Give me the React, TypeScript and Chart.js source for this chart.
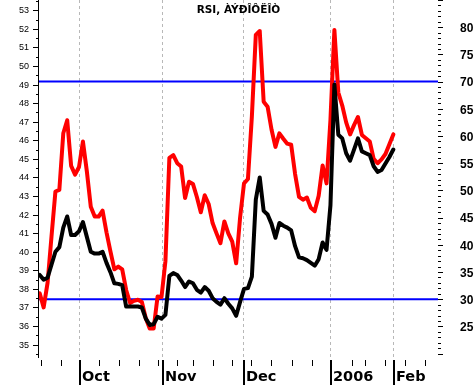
import React, { useEffect, useRef } from 'react';
import { Chart, registerables } from 'chart.js';

Chart.register(...registerables);

const TITLE = 'RSI, ÀÝÐÎÔËÎÒ';

// black series (left axis), one value per trading day
const priceValues = [
  38.75, 38.5, 38.6, 39.3, 40.0, 40.25, 41.3, 41.9, 40.9, 40.9,
  41.1, 41.6, 40.8, 40.0, 39.9, 39.9, 40.0, 39.4, 38.9, 38.3,
  38.27, 38.2, 37.05, 37.05, 37.05, 37.05, 37.0, 36.4, 36.06, 36.1,
  36.5, 36.4, 36.6, 38.7, 38.85, 38.75, 38.45, 38.1, 38.4, 38.3,
  37.95, 37.8, 38.1, 37.9, 37.5, 37.3, 37.15, 37.5, 37.2, 36.95,
  36.55, 37.3, 38.0, 38.04, 38.66, 42.8, 44.0, 42.2, 42.0, 41.5,
  40.75, 41.55, 41.4, 41.3, 41.15, 40.3, 39.7, 39.65, 39.55, 39.4,
  39.25, 39.6, 40.5, 40.1, 42.5, 49.0, 46.3, 46.1, 45.3, 44.9,
  45.5, 46.1, 45.4, 45.3, 45.2, 44.6, 44.3, 44.4, 44.75, 45.1,
  45.5,
];

// red series: RSI (right axis)
const rsiValues = [
  31.1, 28.5, 33, 41.5, 49.8, 50.1, 60.5, 62.9, 54.5, 52.9,
  54.3, 59, 53.5, 47, 45.2, 45.2, 46.3, 42.3, 38.8, 35.5,
  36.0, 35.5, 31.7, 29.3, 29.7, 29.9, 29.5, 26.5, 24.6, 24.6,
  30.5, 30.4, 37, 56, 56.5, 55, 54.4, 48.6, 51.6, 51.2,
  48.8, 46, 49.1, 47.5, 44.0, 42.1, 40.3, 44.3, 42.1, 40.6,
  36.6, 45, 51.3, 52.1, 63.6, 78.6, 79.3, 66.3, 65.4, 61.2,
  58, 60.5, 59.5, 58.6, 58.4, 53, 48.8, 48.3, 48.7, 46.8,
  46.2, 49, 54.6, 51.3, 63, 79.5, 68, 65.6, 62.5, 60.3,
  62, 63.5, 60.2, 59.6, 59, 55.8, 55, 55.7, 56.7, 58.5,
  60.3,
];

const rsiLevels = [70, 30];

const leftTickValues = [35, 36, 37, 38, 39, 40, 41, 42, 43, 44, 45, 46, 47, 48, 49, 50, 51, 52, 53];
const rightTickValues = [25, 30, 35, 40, 45, 50, 55, 60, 65, 70, 75, 80];

const monthLabels = ['Oct', 'Nov', 'Dec', '2006', 'Feb'];
const monthPositions = [10, 31.2, 51.8, 74, 89.8];
const weekTickPositions = [0.33, 5.3, 15.17, 20.2, 25.2, 30.2, 35.0, 39.1, 44.1, 48.9, 53.9, 58.8, 64.1, 69.2, 79.4, 82.8, 87.9, 93.0, 98.1];

const X_MIN = -0.18;
const X_MAX = 101.37;
const LEFT_MIN = 34.28;
const LEFT_MAX = 53.55;
const RIGHT_MIN = 19.2;
const RIGHT_MAX = 85.0;

const axesPlugin = {
  id: 'customAxes',
  beforeDatasetsDraw(chart: any) {
    const { ctx, chartArea } = chart;
    const x = chart.scales.x;
    ctx.save();
    ctx.strokeStyle = '#b8b8b8';
    ctx.lineWidth = 1;
    ctx.setLineDash([3, 3]);
    for (const m of monthPositions) {
      const px = Math.round(x.getPixelForValue(m)) + 0.5;
      ctx.beginPath();
      ctx.moveTo(px, chartArea.top);
      ctx.lineTo(px, chartArea.bottom);
      ctx.stroke();
    }
    ctx.restore();
  },
  afterDraw(chart: any) {
    const { ctx, chartArea } = chart;
    const x = chart.scales.x;
    const yL = chart.scales.yLeft;
    const yR = chart.scales.yRight;
    ctx.save();
    ctx.fillStyle = '#000';

    // left axis line
    ctx.fillRect(chartArea.left - 1, chartArea.top, 1, chartArea.bottom - chartArea.top);
    // left ticks
    for (let v = Math.ceil(LEFT_MIN * 2) / 2; v <= LEFT_MAX; v += 0.5) {
      const py = Math.round(yL.getPixelForValue(v));
      const major = Math.abs(v - Math.round(v)) < 1e-6;
      const len = major ? 5 : 2;
      ctx.fillRect(chartArea.left - 1 - len, py, len, 1);
    }
    ctx.font = '9px "Liberation Sans", Arial, sans-serif';
    ctx.textAlign = 'right';
    ctx.textBaseline = 'middle';
    for (const v of leftTickValues) {
      ctx.fillText(String(v), chartArea.left - 10, yL.getPixelForValue(v) + 0.5);
    }

    // right ticks
    for (let v = Math.ceil(RIGHT_MIN); v <= RIGHT_MAX; v += 1) {
      const py = Math.round(yR.getPixelForValue(v));
      const len = v % 5 === 0 ? 5 : 3;
      ctx.fillRect(chartArea.right, py, len, 1);
    }
    ctx.font = 'bold 12px "Liberation Sans", Arial, sans-serif';
    ctx.textAlign = 'left';
    for (const v of rightTickValues) {
      ctx.fillText(String(v), chartArea.right + 22, yR.getPixelForValue(v) + 1.5);
    }

    // x ticks
    const tickTop = chartArea.bottom + 2;
    for (const w of weekTickPositions) {
      const px = Math.round(x.getPixelForValue(w));
      ctx.fillRect(px, tickTop, 1, 6);
    }
    ctx.font = 'bold 14.5px "DejaVu Sans", Verdana, sans-serif';
    ctx.textAlign = 'left';
    ctx.textBaseline = 'alphabetic';
    monthPositions.forEach((m, i) => {
      const px = Math.round(x.getPixelForValue(m));
      ctx.fillRect(px, tickTop, 2, chart.height - tickTop);
      ctx.fillText(monthLabels[i], px + 3, chartArea.bottom + 22.5);
    });

    // title
    ctx.font = 'bold 10.5px "DejaVu Sans", Verdana, sans-serif';
    ctx.textAlign = 'center';
    ctx.fillText(TITLE, (chartArea.left + chartArea.right) / 2, chartArea.top + 13);
    ctx.restore();
  },
};

export default function App() {
  const canvasRef = useRef<HTMLCanvasElement | null>(null);

  useEffect(() => {
    const canvas = canvasRef.current;
    if (!canvas) return;
    const blueSets = rsiLevels.map((lvl) => ({
      data: [
        { x: X_MIN, y: lvl },
        { x: X_MAX, y: lvl },
      ],
      yAxisID: 'yRight',
      borderColor: '#0000ff',
      borderWidth: 2,
      pointRadius: 0,
      tension: 0,
    }));
    const chart = new Chart(canvas, {
      type: 'line',
      data: {
        datasets: [
          {
            data: priceValues.map((v, i) => ({ x: i, y: v })),
            yAxisID: 'yLeft',
            borderColor: '#000000',
            borderWidth: 4,
            pointRadius: 0,
            tension: 0,
            borderJoinStyle: 'round',
            borderCapStyle: 'round',
          },
          {
            data: rsiValues.map((v, i) => ({ x: i, y: v })),
            yAxisID: 'yRight',
            borderColor: '#ff0000',
            borderWidth: 4,
            pointRadius: 0,
            tension: 0,
            borderJoinStyle: 'round',
            borderCapStyle: 'round',
          },
          ...blueSets,
        ] as any,
      },
      options: {
        responsive: false,
        animation: false,
        devicePixelRatio: 1,
        layout: { padding: { left: 39, right: 38, top: 0, bottom: 27 } },
        plugins: {
          legend: { display: false },
          tooltip: { enabled: false },
          title: { display: false },
        },
        events: [],
        scales: {
          x: { type: 'linear', min: X_MIN, max: X_MAX, display: false },
          yLeft: { type: 'linear', position: 'left', min: LEFT_MIN, max: LEFT_MAX, display: false },
          yRight: { type: 'linear', position: 'right', min: RIGHT_MIN, max: RIGHT_MAX, display: false },
        },
      },
      plugins: [axesPlugin],
    });
    return () => chart.destroy();
  }, []);

  return (
    <div style={{ position: 'fixed', left: 0, top: 0, width: 476, height: 385, background: '#fff' }}>
      <canvas ref={canvasRef} width={476} height={385} style={{ display: 'block' }} />
    </div>
  );
}
